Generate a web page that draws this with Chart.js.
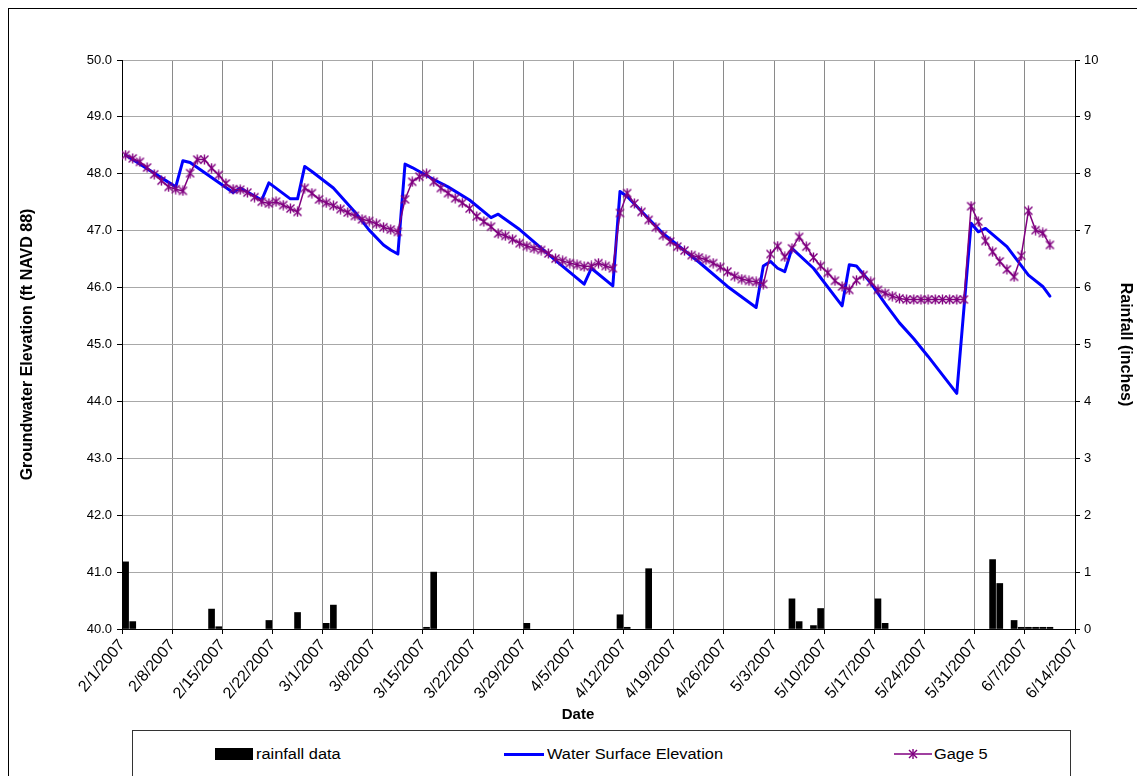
<!DOCTYPE html>
<html>
<head>
<meta charset="utf-8">
<script src="https://cdn.jsdelivr.net/npm/chart.js@4.4.1/dist/chart.umd.min.js"></script>
<style>
html,body{margin:0;padding:0;background:#fff;overflow:hidden;}
#wrap{position:relative;width:1137px;height:776px;overflow:hidden;font-family:"Liberation Sans",Arial,sans-serif;}
#frame{position:absolute;left:8px;top:8px;width:1300px;height:1000px;border:1px solid #000;}
#c{position:absolute;left:0;top:0;}
#legend{position:absolute;left:132px;top:730px;width:937px;height:80px;border:1px solid #333;background:#fff;}
.li{position:absolute;top:0;height:46px;display:flex;align-items:center;font-size:14px;color:#000;white-space:nowrap;}
.txt{display:inline-block;transform:scaleX(1.17);transform-origin:left center;}
</style>
</head>
<body>
<div id="wrap">
  <div id="frame"></div>
  <canvas id="c" width="1137" height="776"></canvas>
  <div id="legend">
    <div class="li" style="left:82px;"><span style="display:inline-block;width:38px;height:12px;background:#000;margin-right:3px;"></span><span class="txt">rainfall data</span></div>
    <div class="li" style="left:371px;"><span style="display:inline-block;width:40px;height:3px;background:#0000ff;margin-right:3px;"></span><span class="txt">Water Surface Elevation</span></div>
    <div class="li" style="left:761px;"><svg width="38" height="12" style="margin-right:2px"><line x1="0" y1="6" x2="38" y2="6" stroke="#800080" stroke-width="1.5"/><line x1="15" y1="2" x2="23" y2="10" stroke="#800080" stroke-width="1.4"/><line x1="23" y1="2" x2="15" y2="10" stroke="#800080" stroke-width="1.4"/><line x1="19" y1="1" x2="19" y2="11" stroke="#800080" stroke-width="1.4"/></svg><span class="txt">Gage 5</span></div>
  </div>
</div>
<script>
// ---- data (x in days after 2/1/2007) ----
const tickLabels = ['2/1/2007','2/8/2007','2/15/2007','2/22/2007','3/1/2007','3/8/2007','3/15/2007','3/22/2007','3/29/2007','4/5/2007','4/12/2007','4/19/2007','4/26/2007','5/3/2007','5/10/2007','5/17/2007','5/24/2007','5/31/2007','6/7/2007','6/14/2007'];

const gageValues = [
 48.33,48.27,48.21,48.11,47.99,47.88,47.77,47.73,47.70,48.01,
 48.25,48.25,48.10,47.98,47.83,47.73,47.72,47.67,47.59,47.51,
 47.48,47.51,47.45,47.39,47.33,47.75,47.66,47.55,47.49,47.44,
 47.38,47.32,47.26,47.20,47.17,47.12,47.06,47.02,46.98,47.55,
 47.86,47.95,48.00,47.86,47.75,47.66,47.57,47.49,47.39,47.25,
 47.16,47.07,46.95,46.91,46.85,46.78,46.73,46.69,46.66,46.60,
 46.51,46.47,46.43,46.40,46.37,46.38,46.43,46.38,46.34,47.31,
 47.66,47.48,47.33,47.19,47.06,46.92,46.81,46.72,46.65,46.57,
 46.53,46.49,46.43,46.36,46.28,46.20,46.15,46.12,46.10,46.06,
 46.59,46.73,46.54,46.69,46.89,46.72,46.53,46.38,46.26,46.12,
 46.02,45.96,46.13,46.22,46.10,45.96,45.90,45.85,45.81,45.79,
 45.79,45.79,45.79,45.79,45.79,45.79,45.79,45.79,47.43,47.16,
 46.82,46.63,46.46,46.32,46.19,46.56,47.35,47.01,46.96,46.75];

const wseDays   = [0,7,8,9,15,16,19,20,23,24,25,26,29,32,34,36,37,38,39,40,43,45,48,51,52,55,60,64,65,68,69,70,75,80,84,88,89,90,91,92,93,96,100,101,102,104,106,108,110,112,116,118,119,120,123,126,128,129];
const wseValues = [48.33,47.77,48.23,48.20,47.67,47.75,47.54,47.84,47.56,47.56,48.13,48.04,47.75,47.33,47.01,46.75,46.66,46.59,48.17,48.11,47.90,47.77,47.54,47.23,47.29,47.02,46.48,46.06,46.34,46.03,47.69,47.60,46.95,46.45,46.02,45.65,46.38,46.46,46.34,46.28,46.69,46.34,45.68,46.40,46.38,46.08,45.72,45.38,45.10,44.79,44.14,47.13,46.98,47.04,46.72,46.22,46.02,45.85];

const rainDays   = [0,1,12,13,20,24,28,29,42,43,56,69,70,73,93,94,96,97,105,106,121,122,124,125,126,127,128,129];
const rainValues = [1.18,0.13,0.35,0.04,0.15,0.29,0.10,0.42,0.03,1.00,0.10,0.25,0.03,1.06,0.53,0.13,0.06,0.36,0.53,0.10,1.22,0.80,0.15,0.03,0.03,0.03,0.03,0.03];

// ---- marker (asterisk) ----
function makeStar(){
  const s = document.createElement('canvas');
  s.width = 11; s.height = 11;
  const g = s.getContext('2d');
  g.strokeStyle = '#800080'; g.lineWidth = 1.4;
  g.beginPath();
  g.moveTo(1.5,1.5); g.lineTo(9.5,9.5);
  g.moveTo(9.5,1.5); g.lineTo(1.5,9.5);
  g.moveTo(5.5,0.5); g.lineTo(5.5,10.5);
  g.stroke();
  return s;
}
const star = makeStar();

const FONT = '"Liberation Sans", Arial, sans-serif';

const dateTitle = {
  id: 'dateTitle',
  afterDraw(chart){
    const c = chart.ctx;
    c.save();
    c.font = 'bold 15px ' + FONT;
    c.fillStyle = '#000';
    c.textAlign = 'center';
    c.textBaseline = 'middle';
    c.fillText('Date', 578, 715);
    c.restore();
  }
};

new Chart(document.getElementById('c'), {
  type: 'bar',
  data: {
    datasets: [
      {
        type: 'line', label: 'Gage 5', yAxisID: 'y', order: 1,
        data: gageValues.map((v, i) => ({x: i + 0.5, y: v})),
        borderColor: '#800080', borderWidth: 1.5, tension: 0,
        pointStyle: star, pointRadius: 5, pointHoverRadius: 5
      },
      {
        type: 'line', label: 'Water Surface Elevation', yAxisID: 'y', order: 2,
        data: wseDays.map((d, i) => ({x: d + 0.5, y: wseValues[i]})),
        borderColor: '#0000ff', borderWidth: 3, tension: 0, pointRadius: 0,
        borderJoinStyle: 'round', borderCapStyle: 'round'
      },
      {
        type: 'bar', label: 'rainfall data', yAxisID: 'y2', order: 3,
        data: rainDays.map((d, i) => ({x: d + 0.5, y: rainValues[i]})),
        backgroundColor: '#000', borderWidth: 0, barThickness: 6
      }
    ]
  },
  options: {
    responsive: false, animation: false,
    layout: {padding: {top: 60, left: 0, right: 0, bottom: 0}},
    plugins: {legend: {display: false}, tooltip: {enabled: false}},
    scales: {
      x: {
        type: 'linear', min: 0, max: 133, offset: false,
        grid: {color: '#8a8a8a', lineWidth: 1, tickColor: '#000', tickLength: 5, offset: false},
        border: {color: '#000', width: 1},
        ticks: {
          stepSize: 7, autoSkip: false, minRotation: 50, maxRotation: 50, padding: 2,
          color: '#000', font: {family: FONT, size: 16},
          callback: (v) => tickLabels[Math.round(v / 7)]
        },
        afterFit(s){ s.height = 147; }
      },
      y: {
        position: 'left', min: 40, max: 50,
        grid: {color: '#a8a8a8', lineWidth: 1, tickColor: '#000', tickLength: 5},
        border: {color: '#000', width: 1},
        ticks: {stepSize: 1, padding: 5, color: '#000', font: {family: FONT, size: 13}, callback: (v) => v.toFixed(1)},
        title: {display: true, text: 'Groundwater Elevation (ft NAVD 88)', color: '#000',
                font: {family: FONT, size: 16, weight: 'bold'}, padding: {top: 18, bottom: 0}},
        afterFit(s){ s.width = 122; }
      },
      y2: {
        position: 'right', min: 0, max: 10,
        grid: {drawOnChartArea: false, tickColor: '#000', tickLength: 5},
        border: {color: '#000', width: 1},
        ticks: {stepSize: 1, padding: 4, color: '#000', font: {family: FONT, size: 13}},
        title: {display: true, text: 'Rainfall (inches)', color: '#000',
                font: {family: FONT, size: 16, weight: 'bold'}, padding: {top: 2, bottom: 0}},
        afterFit(s){ s.width = 62; }
      }
    }
  },
  plugins: [dateTitle]
});
</script>
</body>
</html>
